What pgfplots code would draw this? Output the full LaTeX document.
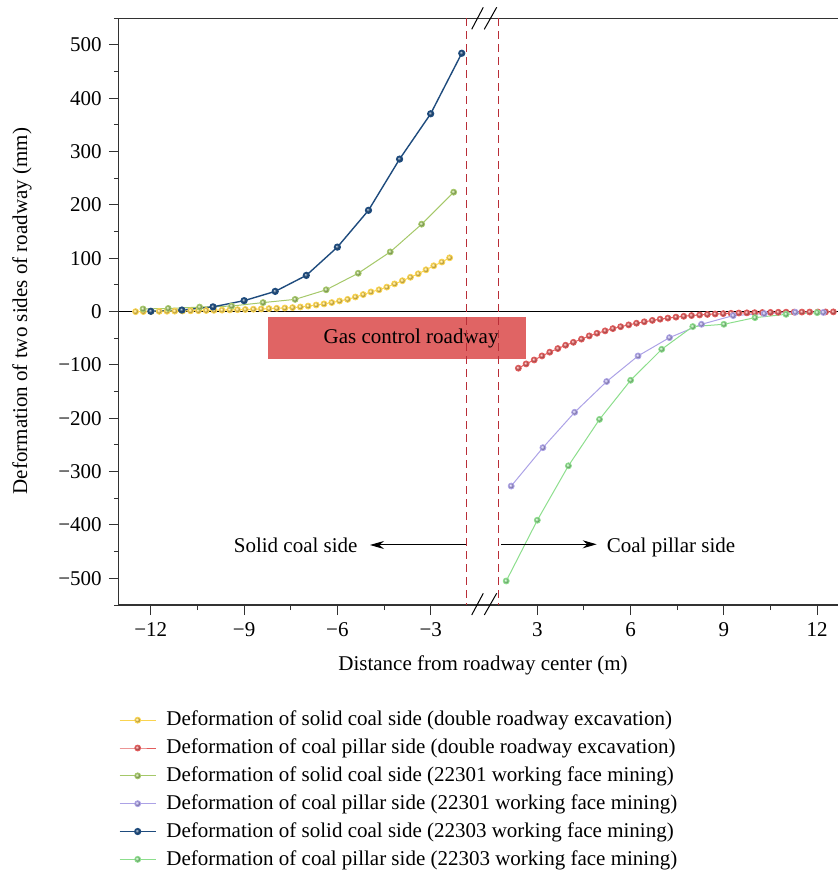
\documentclass[border=0pt]{standalone}
\usepackage{fontspec}
\setmainfont{Liberation Serif}
\usepackage{pgfplots}
\pgfplotsset{compat=1.18}
\usetikzlibrary{arrows.meta}
\definecolor{cyel}{RGB}{250,212,80}
\definecolor{cred}{RGB}{226,92,92}
\definecolor{colive}{RGB}{165,200,105}
\definecolor{cpurp}{RGB}{172,162,230}
\definecolor{cblue}{RGB}{30,75,125}
\definecolor{cgreen}{RGB}{140,222,140}
\definecolor{cdash}{RGB}{185,45,55}
\definecolor{cbox}{RGB}{224,100,100}
\definecolor{caxis}{RGB}{50,50,50}
\def\sh{2.57}
\begin{document}
\fontsize{21}{25}\selectfont
\begin{tikzpicture}
\useasboundingbox (0,0) rectangle (838pt,871pt);
\begin{axis}[
  at={(118.8pt,266pt)}, anchor=south west,
  scale only axis, width=719.2pt, height=586.7pt,
  xmin=-13.03, xmax=10.1, ymin=-550, ymax=550,
  axis x line=bottom, axis y line=left,
  axis line style={-, caxis, line width=1.2pt},
  tick align=outside, major tick length=10pt, minor tick length=5pt,
  every tick/.style={caxis, line width=1pt},
  xtick={-12,-9,-6,-3,0.43,3.43,6.43,9.43},
  xticklabels={−12,−9,−6,−3,3,6,9,12},
  minor xtick={-10.5,-7.5,-4.5,1.93,4.93,7.93},
  ytick={-500,-400,...,500},
  yticklabels={−500,−400,−300,−200,−100,0,100,200,300,400,500},
  minor ytick={-550,-450,...,550},
  xlabel={Distance from roadway center (m)},
  ylabel={Deformation of two sides of roadway (mm)},
  xlabel style={at={(axis description cs:0.5064,-0.1023)}, anchor=center},
  ylabel style={at={(axis description cs:-0.1346,0.501)}, anchor=center},
  legend cell align=left,
  legend style={at={(axis description cs:0,0)}, anchor=north west, xshift=0pt, yshift=-106pt,
    draw=none, fill=none, inner sep=0pt, row sep=9.9pt, column sep=10pt,
    nodes={inner sep=0pt}},
  legend image code/.code={\draw[mark repeat=2,mark phase=2,#1] plot coordinates {(0pt,0pt) (18pt,0pt) (36pt,0pt)};},
  mark size=2.9pt,
]
\fill[cbox] (axis cs:-8.23,-9.4) rectangle (axis cs:0.064,-88.7);
\node[anchor=base west, inner sep=0pt] at (axis cs:-6.45,-60.6) {Gas control roadway};
\draw[black, line width=1pt] (axis cs:-13.03,0) -- (axis cs:10.1,0);
\draw[caxis, line width=1.2pt] (rel axis cs:0,1) -- (rel axis cs:1,1);
\draw[cdash, line width=1pt, dash pattern=on 8pt off 5pt] (axis cs:-1.833,550) -- (axis cs:-1.833,-550);
\draw[cdash, line width=1pt, dash pattern=on 8pt off 5pt] (axis cs:-0.804,550) -- (axis cs:-0.804,-550);

% solid coal side, double roadway excavation
\addplot[cyel, line width=1pt, mark=ball, mark options={ball color=cyel}] table {
-12.49 0
-12.24 0.2
-11.99 0.4
-11.73 0.6
-11.48 0.8
-11.23 1.0
-10.98 1.3
-10.72 1.6
-10.47 1.9
-10.22 2.2
-9.97 2.5
-9.71 2.9
-9.46 3.3
-9.21 3.7
-8.96 4.1
-8.70 4.6
-8.45 5.1
-8.20 5.7
-7.95 6.3
-7.69 6.9
-7.44 7.6
-7.19 8.8
-6.94 10.5
-6.68 12.5
-6.43 14.5
-6.18 17
-5.93 20
-5.67 23
-5.42 27.5
-5.17 32
-4.92 37
-4.66 41
-4.41 46
-4.16 52
-3.91 58
-3.65 64.5
-3.40 71
-3.15 78.5
-2.90 86
-2.64 93
-2.39 101
};
\addlegendentry{Deformation of solid coal side (double roadway excavation)}

% coal pillar side, double roadway excavation
\addplot[cred, line width=1pt, mark=ball, mark options={ball color=cred}] table[x expr=\thisrowno{0}-\sh, y index=1] {
2.39 -106
2.64 -98
2.90 -90.6
3.15 -83
3.40 -76
3.66 -69.2
3.91 -63
4.16 -57.5
4.42 -51.5
4.67 -45.5
4.92 -40.5
5.18 -36
5.43 -31.8
5.68 -28.2
5.94 -24.8
6.19 -21.7
6.44 -19
6.70 -16.4
6.95 -14.1
7.20 -12.1
7.46 -10.3
7.71 -8.7
7.96 -7.3
8.22 -6.2
8.47 -5.2
8.72 -4.4
8.98 -3.7
9.23 -3.1
9.48 -2.6
9.74 -2.2
9.99 -1.9
10.24 -1.6
10.50 -1.4
10.75 -1.2
11.00 -1.0
11.26 -0.9
11.51 -0.8
11.76 -0.7
12.02 -0.6
12.27 -0.5
12.52 -0.4
};
\addlegendentry{Deformation of coal pillar side (double roadway excavation)}

% solid coal side, 22301
\addplot[colive, line width=1pt, mark=ball, mark options={ball color=colive}] table {
-12.25 5
-11.44 6
-10.43 8.5
-9.40 10.5
-8.39 17
-7.36 23
-6.36 41
-5.33 72
-4.30 112
-3.29 164
-2.26 224
};
\addlegendentry{Deformation of solid coal side (22301 working face mining)}

% coal pillar side, 22301
\addplot[cpurp, line width=1pt, mark=ball, mark options={ball color=cpurp}] table[x expr=\thisrowno{0}-\sh, y index=1] {
2.16 -327
3.18 -255
4.20 -188.7
5.23 -131
6.24 -83
7.25 -48.7
8.28 -23.7
9.30 -7.4
10.30 -3.7
11.30 -1.2
12.20 -1.5
};
\addlegendentry{Deformation of coal pillar side (22301 working face mining)}

% solid coal side, 22303
\addplot[cblue, line width=1.4pt, mark=ball, mark options={ball color=cblue}] table {
-12 0.7
-11 3
-10 9
-9 20.6
-8 38
-7 68
-6 121
-5 190
-4 286
-3 371
-2 484.5
};
\addlegendentry{Deformation of solid coal side (22303 working face mining)}

% coal pillar side, 22303
\addplot[cgreen, line width=1pt, mark=ball, mark options={ball color=cgreen}] table[x expr=\thisrowno{0}-\sh, y index=1] {
2 -505
3 -391
4 -289
5 -202
6 -128.7
7 -70.6
8 -28
9 -23.7
10 -11.2
11 -5
12 -1.8
};
\addlegendentry{Deformation of coal pillar side (22303 working face mining)}
\end{axis}
% axis break marks
\draw[black, line width=1pt] (471.7pt,841.7pt) -- (483.3pt,863.7pt);
\draw[black, line width=1pt] (484.3pt,841.7pt) -- (496.7pt,863.7pt);
\draw[black, line width=1pt] (471.7pt,256pt) -- (483.3pt,277.7pt);
\draw[black, line width=1pt] (484.3pt,256pt) -- (496.7pt,277.7pt);
% side arrows
\draw[-{Stealth[length=14pt,width=8pt]}, line width=1pt] (465.7pt,326pt) -- (370pt,326pt);
\node[anchor=base east, inner sep=0pt] at (357.7pt,318pt) {Solid coal side};
\draw[-{Stealth[length=14pt,width=8pt]}, line width=1pt] (501pt,326.7pt) -- (596.7pt,326.7pt);
\node[anchor=base west, inner sep=0pt] at (606.7pt,318pt) {Coal pillar side};
\end{tikzpicture}
\end{document}
